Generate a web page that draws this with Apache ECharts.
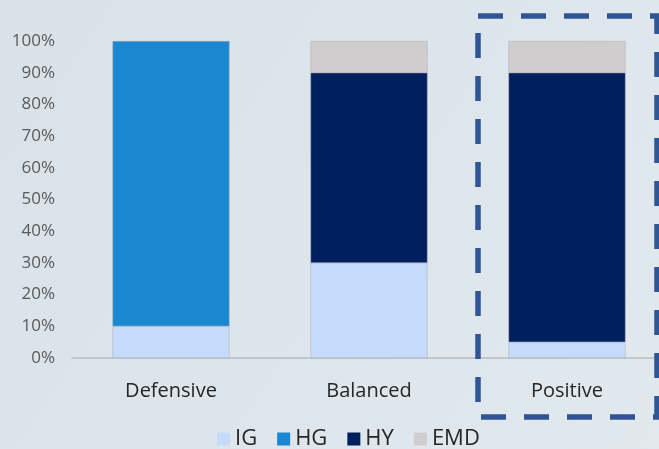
<!DOCTYPE html>
<html lang="en">
<head>
    <meta charset="UTF-8">
    <title>Allocation by scenario</title>
    <style>
        * { padding: 0; margin: 0; }
        body { background: #dde6ec; }
    </style>
    <script src="https://cdn.jsdelivr.net/npm/echarts@6/dist/echarts.min.js"></script>
</head>
<body>
    <div id="main" style="width:659px;height:449px;"></div>
    <script type="text/javascript">
    var categories = ['Defensive', 'Balanced', 'Positive'];
    var seriesNames = ['IG', 'HG', 'HY', 'EMD'];
    var igValues = [10, 30, 5];
    var hgValues = [90, 0, 0];
    var hyValues = [0, 60, 85];
    var emdValues = [0, 10, 10];
    var yTicks = [0, 10, 20, 30, 40, 50, 60, 70, 80, 90, 100];

    var colors = ['#c6dbf9', '#1a87d0', '#001f5e', '#cfcdce'];
    var allValues = [igValues, hgValues, hyValues, emdValues];

    var myChart = echarts.init(document.getElementById('main'));

    // 0 值不画（否则堆叠顶部会多出一条边框）
    var series = seriesNames.map(function (name, i) {
        return {
            name: name,
            type: 'bar',
            stack: 'total',
            barWidth: 117,
            data: allValues[i].map(function (v) { return v === 0 ? '-' : v; }),
            itemStyle: {
                color: colors[i],
                borderColor: '#a9adb1',
                borderWidth: 0.5
            }
        };
    });

    var option = {
        backgroundColor: {
            type: 'linear', x: 0, y: 0, x2: 1, y2: 1,
            colorStops: [
                { offset: 0, color: '#d9e2e8' },
                { offset: 1, color: '#e1e9ef' }
            ]
        },
        textStyle: { fontFamily: 'Open Sans' },
        animation: false,
        grid: { left: 72, top: 41, width: 594, height: 317, outerBoundsMode: 'none' },
        legend: {
            top: 428,
            left: 217,
            padding: 0,
            itemWidth: 13,
            itemHeight: 13,
            itemGap: 20,
            itemStyle: { borderWidth: 0 },
            textStyle: { fontSize: 22, color: '#262626' },
            data: seriesNames.map(function (n) { return { name: n, icon: 'rect' }; })
        },
        xAxis: {
            type: 'category',
            data: categories,
            axisLine: { lineStyle: { color: '#b8bcc0', width: 1.5 } },
            axisTick: { show: false },
            axisLabel: { fontSize: 20, color: '#262626', margin: 23 }
        },
        yAxis: {
            type: 'value',
            min: 0,
            max: 100,
            interval: 10,
            axisLine: { show: false },
            axisTick: { show: false },
            splitLine: { show: false },
            axisLabel: {
                fontSize: 17,
                color: '#595959',
                margin: 17,
                formatter: function (v) { return yTicks.indexOf(v) >= 0 ? v + '%' : ''; }
            }
        },
        series: series,
        graphic: [{
            type: 'rect',
            shape: { x: 478, y: 16, width: 179, height: 401 },
            style: {
                fill: 'transparent',
                stroke: '#2f5597',
                lineWidth: 5.5,
                lineDash: [25, 18]
            },
            z: 10
        }]
    };

    myChart.setOption(option);
    </script>
</body>
</html>
